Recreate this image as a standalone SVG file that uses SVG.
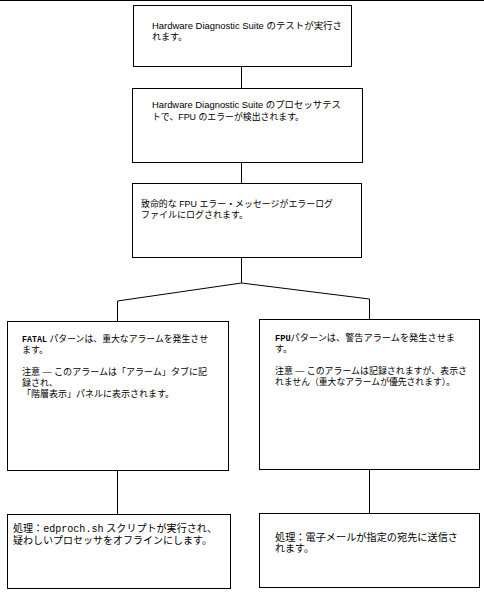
<svg xmlns="http://www.w3.org/2000/svg" width="484" height="594" viewBox="0 0 484 594">
<defs>
<style>
.box{fill:#fff;stroke:#000;stroke-width:1}
.c{fill:none;stroke:#000;stroke-width:1}
text{font-family:"Liberation Sans","Noto Sans CJK JP",sans-serif;font-size:9px;fill:#000}
.lg{font-size:10px}
.m{font-family:"Liberation Mono","Noto Sans CJK JP",monospace;font-weight:bold;font-size:8.5px}
.mr{font-family:"Liberation Mono","Noto Sans CJK JP",monospace}
</style>
</defs>
<rect width="484" height="594" fill="#fff"/>
<line x1="0" y1="0.5" x2="484" y2="0.5" class="c"/>
<g id="connectors">
<line x1="241.5" y1="66" x2="241.5" y2="88" class="c"/>
<line x1="241.5" y1="162" x2="241.5" y2="183" class="c"/>
<line x1="241.5" y1="257" x2="241.5" y2="283" class="c"/>
<polyline points="117.5,321 117.5,301 241.5,283 369.5,299 369.5,319" class="c"/>
<line x1="117.5" y1="470" x2="117.5" y2="514" class="c"/>
<line x1="369.5" y1="469" x2="369.5" y2="513" class="c"/>
</g>
<g id="n1">
<rect x="133.5" y="5.5" width="218" height="61" class="box"/>
<text x="152" y="29" textLength="190" lengthAdjust="spacingAndGlyphs">Hardware Diagnostic Suite のテストが実行さ</text>
<text x="152" y="40">れます。</text>
</g>
<g id="n2">
<rect x="132.5" y="88.5" width="230" height="74" class="box"/>
<text x="152" y="108" textLength="189" lengthAdjust="spacingAndGlyphs">Hardware Diagnostic Suite のプロセッサテス</text>
<text x="152" y="120" textLength="152" lengthAdjust="spacingAndGlyphs">トで、FPU のエラーが検出されます。</text>
</g>
<g id="n3">
<rect x="132.5" y="183.5" width="229" height="74" class="box"/>
<text x="141" y="207" textLength="192" lengthAdjust="spacingAndGlyphs">致命的な FPU エラー・メッセージがエラーログ</text>
<text x="141" y="218">ファイルにログされます。</text>
</g>
<g id="n4">
<rect x="7.5" y="321.5" width="221" height="149" class="box"/>
<text x="22" y="342" textLength="186" lengthAdjust="spacingAndGlyphs"><tspan class="m">FATAL</tspan> パターンは、重大なアラームを発生させ</text>
<text x="22" y="353">ます。</text>
<text x="22" y="375" textLength="185" lengthAdjust="spacingAndGlyphs">注意 — このアラームは「アラーム」タブに記</text>
<text x="22" y="386">録され、</text>
<text x="22" y="397">「階層表示」パネルに表示されます。</text>
</g>
<g id="n5">
<rect x="259.5" y="319.5" width="220" height="150" class="box"/>
<text x="275" y="341" textLength="180" lengthAdjust="spacingAndGlyphs"><tspan class="m">FPU</tspan>パターンは、警告アラームを発生させま</text>
<text x="275" y="352">す。</text>
<text x="275" y="374" textLength="192" lengthAdjust="spacingAndGlyphs">注意 — このアラームは記録されますが、表示さ</text>
<text x="275" y="385" textLength="180" lengthAdjust="spacingAndGlyphs">れません（重大なアラームが優先されます）。</text>
</g>
<g id="n6">
<rect x="7.5" y="514.5" width="223" height="74" class="box"/>
<text class="lg" x="13" y="532" textLength="204" lengthAdjust="spacingAndGlyphs">処理：<tspan class="mr">edproch.sh</tspan> スクリプトが実行され、</text>
<text class="lg" x="13" y="544">疑わしいプロセッサをオフラインにします。</text>
</g>
<g id="n7">
<rect x="259.5" y="513.5" width="220" height="74" class="box"/>
<text class="lg" x="275" y="541" textLength="183" lengthAdjust="spacingAndGlyphs">処理：電子メールが指定の宛先に送信さ</text>
<text class="lg" x="275" y="552">れます。</text>
</g>
</svg>
